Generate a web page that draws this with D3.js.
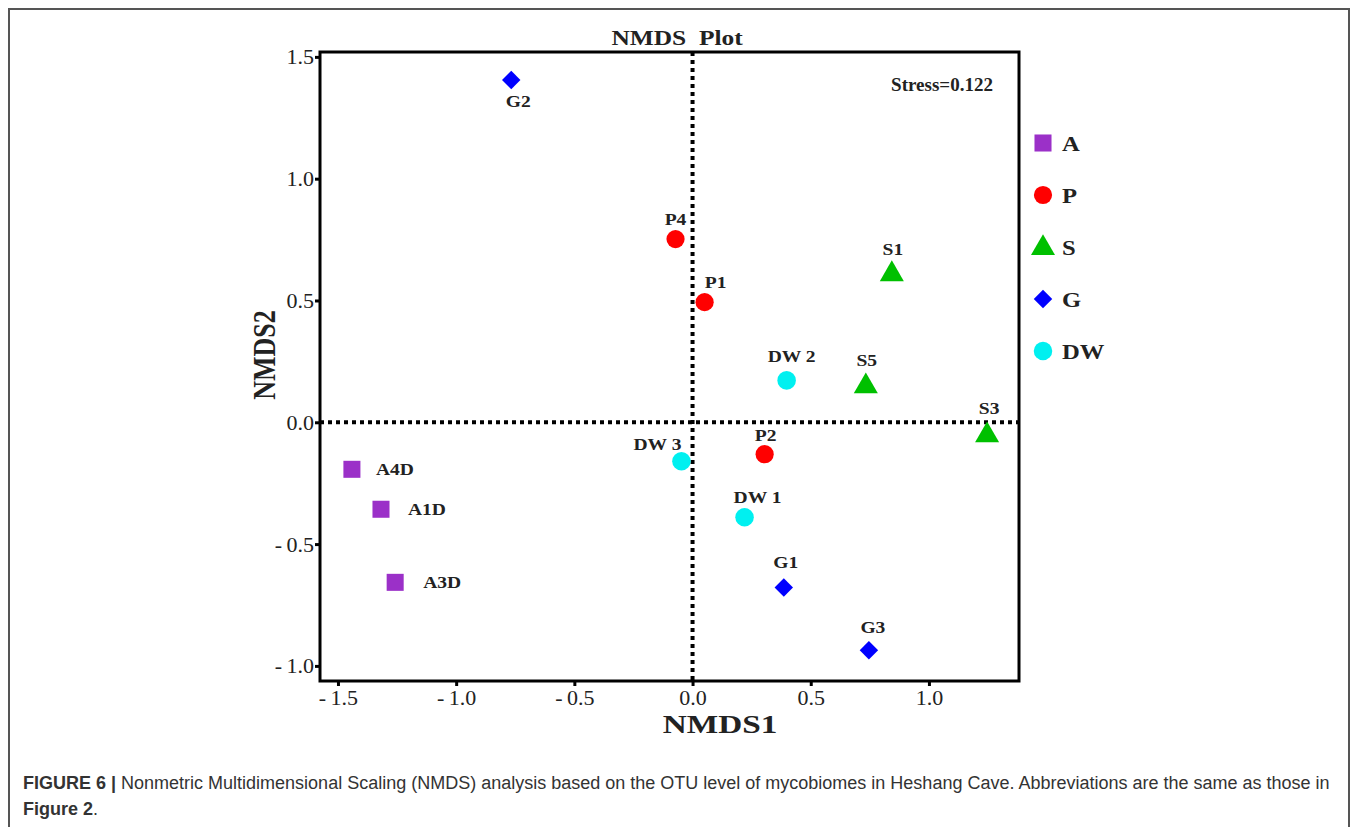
<!DOCTYPE html>
<html>
<head>
<meta charset="utf-8">
<script src="https://cdn.jsdelivr.net/npm/d3@7"></script>
<style>
  body { margin: 0; background: white; }
</style>
</head>
<body>
<div id="visualization"></div>
<script>
// data
let sampleNames = ["G2", "P4", "P1", "S1", "DW 2", "S5", "S3", "DW 3", "P2", "DW 1", "G1", "G3", "A4D", "A1D", "A3D"];
let sampleGroups = ["G", "P", "P", "S", "DW", "S", "S", "DW", "P", "DW", "G", "G", "A", "A", "A"];
let nmds1 = [-0.767, -0.072, 0.051, 0.843, 0.398, 0.733, 1.246, -0.047, 0.305, 0.220, 0.386, 0.746, -1.441, -1.318, -1.258];
let nmds2 = [1.405, 0.752, 0.493, 0.616, 0.172, 0.156, -0.045, -0.160, -0.131, -0.390, -0.678, -0.936, -0.193, -0.357, -0.657];

let groups = ["A", "P", "S", "G", "DW"];
let xTicks = [-1.5, -1.0, -0.5, 0.0, 0.5, 1.0];
let yTicks = [-1.0, -0.5, 0.0, 0.5, 1.0, 1.5];

// label placement next to each point [dx, dy, anchor]
let labelPlace = {
  "G2": [7, 27, "middle"], "P4": [0, -14, "middle"], "P1": [11, -14, "middle"],
  "S1": [1, -17, "middle"], "DW 2": [5, -18, "middle"], "S5": [1, -18, "middle"],
  "S3": [2, -19, "middle"], "DW 3": [-24, -11, "middle"], "P2": [1, -13, "middle"],
  "DW 1": [13, -14, "middle"], "G1": [2, -19, "middle"], "G3": [4, -17, "middle"],
  "A4D": [24, 6, "start"], "A1D": [27, 6, "start"], "A3D": [28, 6, "start"]
};

let w = 1357, h = 827;
let plotLeft = 320, plotRight = 1019, plotTop = 52, plotBottom = 681;
let serif = "Liberation Serif, Times New Roman, serif";

let viz = d3.select("#visualization")
    .append("svg")
    .attr("width", w)
    .attr("height", h)
;

// the original artwork has somewhat wide lettering, so some texts get a horizontal stretch
function addText(str, x, y, size, sx, anchor){
  return viz.append("text")
    .text(str)
    .attr("transform", "translate(" + x + "," + y + ") scale(" + sx + ",1)")
    .attr("text-anchor", anchor)
    .attr("font-family", serif)
    .attr("font-weight", "bold")
    .attr("font-size", size)
    .attr("fill", "#222")
  ;
}

// outer figure border (open at the bottom)
viz.append("path")
  .attr("d", "M9,830 L9,9 L1349,9 L1349,830")
  .attr("fill", "none")
  .attr("stroke", "#555")
  .attr("stroke-width", 2)
;

let xScale = d3.scaleLinear().domain([-1.576, 1.381]).range([plotLeft, plotRight]);
let yScale = d3.scaleLinear().domain([-1.062, 1.52]).range([plotBottom, plotTop]);

let colorScale = d3.scaleOrdinal()
  .domain(groups)
  .range(["#9b30c8", "#ff0000", "#00c000", "#0000ff", "#00f0f0"])
;
let shapeScale = d3.scaleOrdinal()
  .domain(groups)
  .range([d3.symbolSquare, d3.symbolCircle, d3.symbolTriangle, d3.symbolSquare, d3.symbolCircle])
;
let sizeScale = d3.scaleOrdinal()
  .domain(groups)
  .range([290, 260, 250, 170, 270])
;
function symbolPath(g){
  return d3.symbol().type(shapeScale(g)).size(sizeScale(g))();
}
function symbolTurn(g){
  return g == "G" ? " rotate(45)" : "";
}
function tickLabel(d){
  let s = d3.format(".1f")(Math.abs(d));
  return d < 0 ? "-\u2009" + s : s;
}

// dotted zero lines
viz.append("line")
  .attr("x1", xScale(0)).attr("x2", xScale(0))
  .attr("y1", plotTop).attr("y2", plotBottom)
  .attr("stroke", "black").attr("stroke-width", 4)
  .attr("stroke-dasharray", "4,4")
;
viz.append("line")
  .attr("x1", plotLeft).attr("x2", plotRight)
  .attr("y1", yScale(0)).attr("y2", yScale(0))
  .attr("stroke", "black").attr("stroke-width", 4)
  .attr("stroke-dasharray", "4,4")
;

// axes
let xAxis = d3.axisBottom(xScale).tickValues(xTicks).tickFormat(tickLabel).tickSize(5).tickSizeOuter(0);
let xAxisGroup = viz.append("g").attr("class", "xaxis")
  .attr("transform", "translate(0," + plotBottom + ")")
  .call(xAxis)
;
let yAxis = d3.axisLeft(yScale).tickValues(yTicks).tickFormat(tickLabel).tickSize(5).tickSizeOuter(0);
let yAxisGroup = viz.append("g").attr("class", "yaxis")
  .attr("transform", "translate(" + plotLeft + ",0)")
  .call(yAxis)
;
viz.selectAll(".xaxis .domain, .yaxis .domain").remove();
viz.selectAll(".xaxis line, .yaxis line").attr("stroke", "black").attr("stroke-width", 3);
viz.selectAll(".xaxis text, .yaxis text")
  .attr("font-family", serif)
  .attr("font-size", 22)
  .attr("fill", "#222")
;
xAxisGroup.selectAll("text").attr("y", 8).attr("dy", "0.72em");
yAxisGroup.selectAll("text").attr("dy", "0.32em").attr("x", -6);

// frame
viz.append("rect")
  .attr("x", plotLeft).attr("y", plotTop)
  .attr("width", plotRight - plotLeft).attr("height", plotBottom - plotTop)
  .attr("fill", "none").attr("stroke", "black").attr("stroke-width", 3)
;

// titles
addText("NMDS  Plot", 677, 45, 20, 1.27, "middle").style("white-space", "pre");
addText("NMDS1", 720, 733, 26, 1.28, "middle");
viz.append("text")
  .text("NMDS2")
  .attr("transform", "translate(275,355) rotate(-90) scale(1,1.2)")
  .attr("text-anchor", "middle")
  .attr("font-family", serif)
  .attr("font-weight", "bold").attr("font-size", 26)
  .attr("fill", "#222")
;
addText("Stress=0.122", 942, 91, 19, 1.0, "middle");

// points
let points = sampleNames.map(function(name, i){
  return {name: name, group: sampleGroups[i], x: nmds1[i], y: nmds2[i]};
});

let datagroup = viz.selectAll(".datagroup").data(points).enter()
  .append("g")
  .classed("datagroup", true)
  .attr("transform", function(d){
    return "translate(" + xScale(d.x) + "," + yScale(d.y) + ")";
  })
;
datagroup.append("path")
  .attr("d", function(d){ return symbolPath(d.group); })
  .attr("transform", function(d){ return (d.group == "S" ? "translate(0,2)" : "") + symbolTurn(d.group); })
  .attr("fill", function(d){ return colorScale(d.group); })
;
datagroup.append("text")
  .text(function(d){ return d.name; })
  .attr("transform", function(d){
    let p = labelPlace[d.name];
    return "translate(" + p[0] + "," + p[1] + ") scale(1.15,1)";
  })
  .attr("text-anchor", function(d){ return labelPlace[d.name][2]; })
  .attr("font-family", serif)
  .attr("font-weight", "bold").attr("font-size", 17)
  .attr("fill", "#222")
;

// legend
let legendY = d3.scalePoint().domain(groups).range([143, 351]);
let legend = viz.selectAll(".legend").data(groups).enter()
  .append("g")
  .classed("legend", true)
  .attr("transform", function(d){ return "translate(1043," + legendY(d) + ")"; })
;
legend.append("path")
  .attr("d", function(d){ return symbolPath(d); })
  .attr("transform", function(d){ return (d == "S" ? "translate(0,1)" : "") + symbolTurn(d); })
  .attr("fill", function(d){ return colorScale(d); })
;
legend.append("text")
  .text(function(d){ return d; })
  .attr("transform", "translate(19,8) scale(1.12,1)")
  .attr("font-family", serif)
  .attr("font-weight", "bold").attr("font-size", 22)
  .attr("fill", "#222")
;

// caption
let caption = viz.append("text")
  .attr("x", 23).attr("y", 789)
  .attr("font-family", "Liberation Sans, Arial, sans-serif")
  .attr("font-size", 18)
  .attr("fill", "#333")
;
caption.append("tspan").attr("font-weight", "bold").text("FIGURE 6 | ");
caption.append("tspan").text("Nonmetric Multidimensional Scaling (NMDS) analysis based on the OTU level of mycobiomes in Heshang Cave. Abbreviations are the same as those in");
let caption2 = viz.append("text")
  .attr("x", 23).attr("y", 815)
  .attr("font-family", "Liberation Sans, Arial, sans-serif")
  .attr("font-size", 18)
  .attr("fill", "#333")
;
caption2.append("tspan").attr("font-weight", "bold").text("Figure 2");
caption2.append("tspan").text(".");
</script>
</body>
</html>
